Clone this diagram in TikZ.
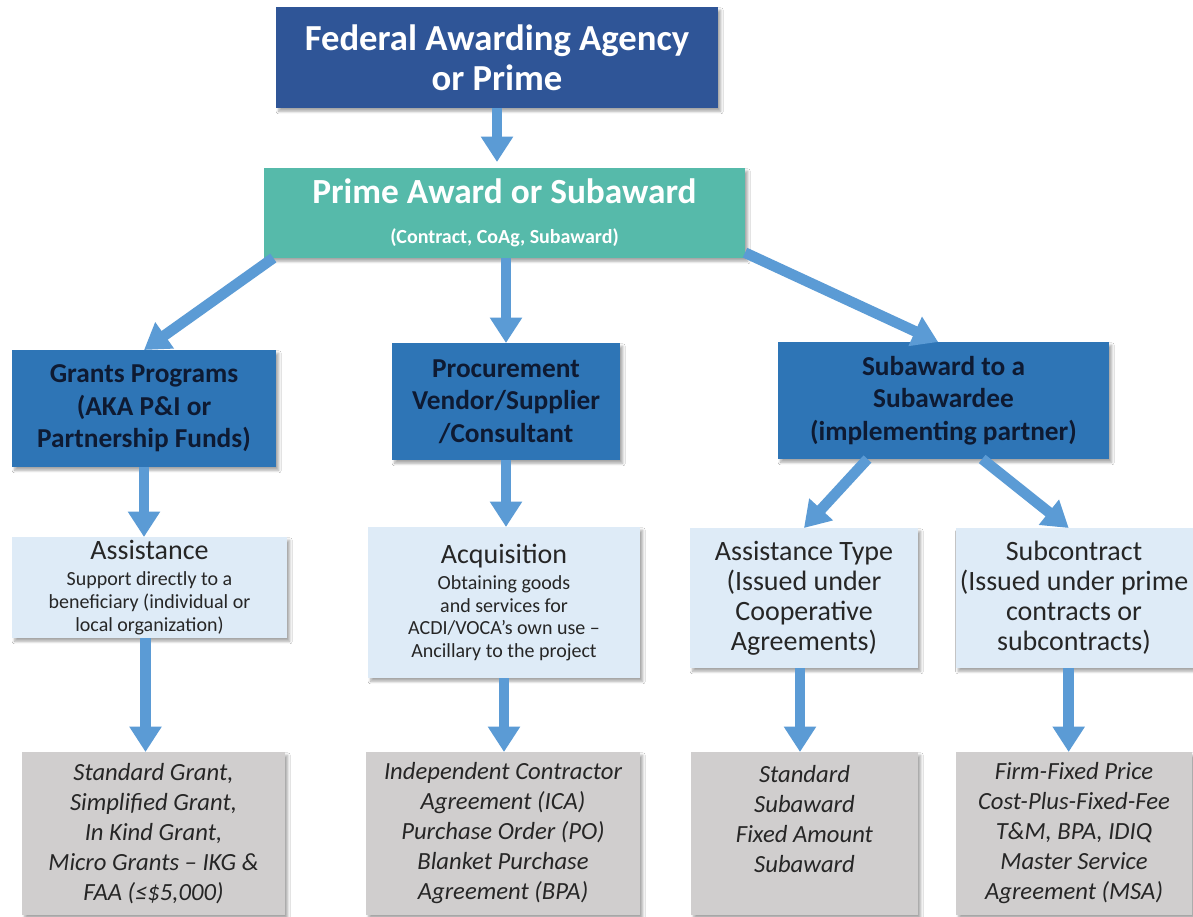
\documentclass[tikz,border=0pt]{standalone}
\usepackage{fontspec}
\setmainfont{Carlito}
\newcommand*{\notefont}{\fontsize{15}{17}\selectfont}
\definecolor{agencyblue}{RGB}{47,85,151}
\definecolor{awardteal}{RGB}{86,186,170}
\definecolor{typeblue}{RGB}{46,117,182}
\definecolor{paleblue}{RGB}{222,235,247}
\definecolor{instgray}{RGB}{208,206,206}
\definecolor{flowblue}{RGB}{91,155,213}
\definecolor{navytext}{RGB}{14,26,50}
\definecolor{darktext}{RGB}{38,38,38}
\usepackage{tikz}
\usetikzlibrary{arrows.meta}
\usetikzlibrary{shadows.blur}
\tikzstyle{card}=[rectangle, inner sep=0pt, outer sep=0pt, align=center,
    blur shadow={shadow xshift=2pt, shadow yshift=-2.5pt, shadow blur steps=6, shadow opacity=35}]
\tikzstyle{agency}=[card, fill=agencyblue, text=white, font=\bfseries\fontsize{27.5}{30}\selectfont]
\tikzstyle{award}=[card, fill=awardteal, text=white, font=\bfseries\fontsize{26.5}{30}\selectfont]
\tikzstyle{program}=[card, fill=typeblue, text=navytext, font=\bfseries\fontsize{20.5}{24.5}\selectfont]
\tikzstyle{track}=[card, fill=paleblue, text=darktext, font=\fontsize{21}{17}\selectfont]
\tikzstyle{trackwide}=[track, font=\fontsize{21}{22.5}\selectfont]
\tikzstyle{instrument}=[card, fill=instgray, text=darktext, font=\itshape\fontsize{18.5}{22.5}\selectfont, minimum height=122.25pt]
\tikzstyle{flow}=[flowblue, line width=8pt, -{Triangle[width=23pt,length=19pt]}]

\begin{document}
\begin{tikzpicture}[x=0.75pt, y=-0.75pt]
    \path [use as bounding box, fill=white] (0,0) rectangle (1193,917);

    % agency and award
    \node [agency, minimum width=331.5pt, minimum height=75.75pt] (agency) at (497,57.5) {Federal Awarding Agency\\or Prime};
    \node [award, minimum width=360.75pt, minimum height=67.5pt] (award) at (504.5,213) {Prime Award or Subaward\\\fontsize{15}{19}\selectfont (Contract, CoAg, Subaward)};

    % award types
    \node [program, minimum width=198pt, minimum height=87.75pt] (grants) at (144,408.5) {Grants Programs\\(AKA P\&I or\\Partnership Funds)};
    \node [program, minimum width=171pt, minimum height=87.75pt] (procure) at (506,401.5) {Procurement\\Vendor/Supplier\\/Consultant};
    \node [program, minimum width=248.25pt, minimum height=87.75pt] (subaward) at (943.5,400.5) {Subaward to a\\Subawardee\\(implementing partner)};

    % assistance or acquisition
    \node [track, minimum width=206.25pt, minimum height=75.75pt] (assist) at (149.5,587.5) {Assistance\\[2.5pt]\notefont Support directly to a\\\notefont beneficiary (individual or\\\notefont local organization)};
    \node [track, minimum width=204pt, minimum height=113.25pt] (acquis) at (504,602.5) {Acquisition\\[2.5pt]\notefont Obtaining goods\\\notefont and services for\\\notefont ACDI/VOCA's own use --\\\notefont Ancillary to the project};
    \node [trackwide, minimum width=171pt, minimum height=105pt] (asstype) at (804,598) {Assistance Type\\(Issued under\\Cooperative\\Agreements)};
    \node [trackwide, minimum width=177.75pt, minimum height=105pt] (subcon) at (1074,598) {Subcontract\\(Issued under prime\\contracts or\\subcontracts)};

    % instruments
    \node [instrument, minimum width=197.25pt] (grantlist) at (153.5,833.5) {Standard Grant,\\Simplified Grant,\\In Kind Grant,\\Micro Grants -- IKG \&\\FAA (≤\$5,000)};
    \node [instrument, minimum width=205.5pt] (buylist) at (503,833.5) {Independent Contractor\\Agreement (ICA)\\Purchase Order (PO)\\Blanket Purchase\\Agreement (BPA)};
    \node [instrument, minimum width=170.25pt] (sublist) at (804.5,833.5) {Standard\\Subaward\\Fixed Amount\\Subaward\\\mbox{}};
    \node [instrument, minimum width=177pt] (contlist) at (1074,833.5) {Firm-Fixed Price\\Cost-Plus-Fixed-Fee\\T\&M, BPA, IDIQ\\Master Service\\Agreement (MSA)};

    \draw [flow, shorten >=4.5pt] (agency.south) -- (agency.south |- award.north);
    \draw [flow] ([xshift=7pt]award.south west) -- (grants.north);
    \draw [flow] (procure.north |- award.south) -- (procure.north);
    \draw [flow] ([yshift=4pt]award.south east) -- ([xshift=-4pt]subaward.north);
    \draw [flow] (grants.south) -- (grants.south |- assist.north);
    \draw [flow] (procure.south) -- (procure.south |- acquis.north);
    \draw [flow] ([xshift=-57pt]subaward.south) -- (asstype.north);
    \draw [flow] ([xshift=29pt]subaward.south) -- ([xshift=-4pt]subcon.north);
    \draw [flow] ([xshift=-3pt]assist.south) -- ([xshift=-3pt]assist.south |- grantlist.north);
    \draw [flow] (acquis.south) -- (acquis.south |- buylist.north);
    \draw [flow] ([xshift=-3pt]asstype.south) -- ([xshift=-3pt]asstype.south |- sublist.north);
    \draw [flow] ([xshift=-4pt]subcon.south) -- ([xshift=-4pt]subcon.south |- contlist.north);
\end{tikzpicture}
\end{document}
